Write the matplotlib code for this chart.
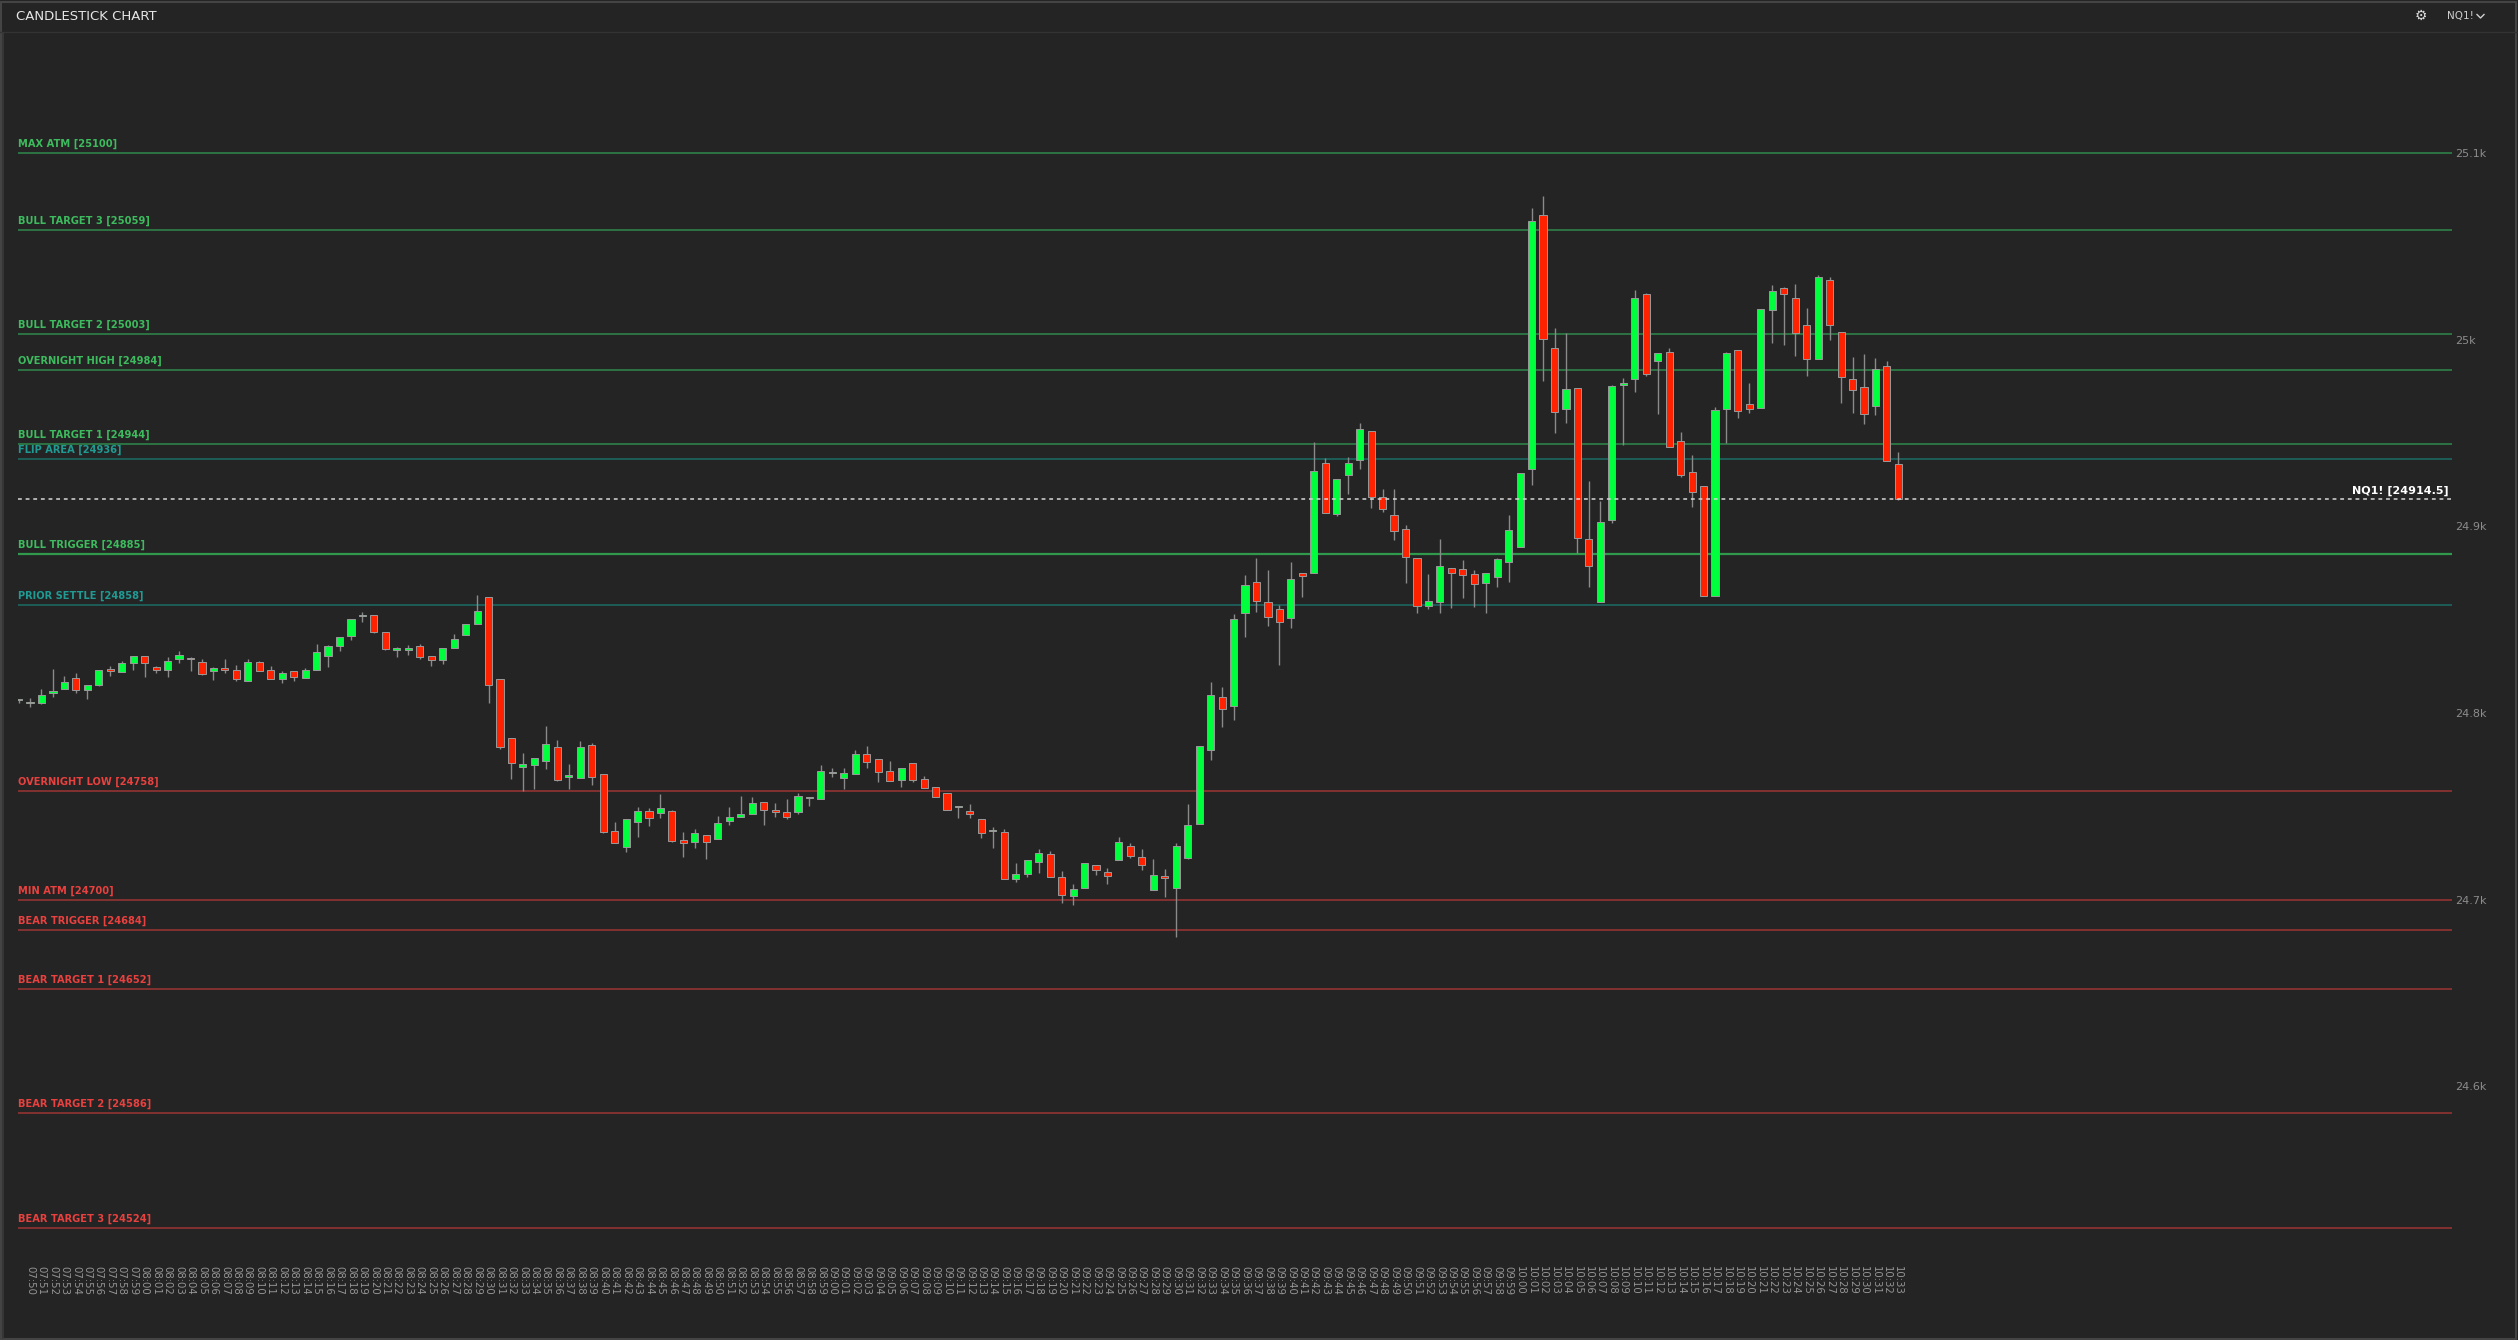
import matplotlib
matplotlib.use("Agg")
import matplotlib.pyplot as plt
from matplotlib.lines import Line2D
import numpy as np

# ---------------- data ----------------
opens = [24807.0,24805.3,24805.2,24810.6,24813.1,24818.6,24812.2,24814.9,24823.4,24822.2,
 24826.7,24830.4,24824.9,24823.1,24828.8,24829.5,24827.5,24822.4,24824.0,24823.3,
 24817.4,24827.2,24822.9,24818.1,24822.4,24819.0,24823.1,24830.8,24836.0,24841.5,
 24851.8,24852.4,24843.3,24834.0,24834.0,24836.0,24830.4,24828.6,24834.7,24841.7,
 24847.9,24862.2,24818.4,24786.5,24771.1,24772.4,24774.5,24782.0,24765.9,24765.4,
 24782.7,24767.2,24736.6,24728.2,24741.8,24747.4,24746.3,24747.5,24731.8,24730.8,
 24734.9,24732.7,24742.4,24744.1,24746.1,24752.2,24747.4,24747.2,24747.2,24754.5,
 24754.1,24767.7,24765.4,24767.5,24778.1,24775.2,24768.8,24764.3,24773.4,24764.9,
 24760.2,24757.4,24749.5,24747.7,24743.4,24736.6,24736.1,24710.9,24714.0,24720.2,
 24724.3,24712.0,24702.0,24706.1,24718.4,24715.0,24721.1,24728.6,24722.7,24705.2,
 24712.7,24706.5,24722.5,24740.7,24780.0,24808.4,24803.8,24853.6,24870.0,24859.3,
 24855.6,24850.7,24874.8,24875.2,24933.8,24906.5,24927.7,24935.6,24951.3,24915.6,
 24905.9,24898.4,24882.9,24857.5,24859.7,24877.9,24877.0,24874.5,24869.9,24873.0,
 24880.9,24888.8,24930.5,25066.8,24995.7,24962.7,24974.0,24893.0,24859.7,24903.4,
 24975.7,24979.1,25024.3,24988.8,24993.6,24945.9,24928.9,24921.8,24862.9,24962.7,
 24994.6,24965.4,24963.6,25015.7,25027.5,25022.2,25007.7,24989.5,25031.8,25003.9,
 24978.8,24974.5,24964.6,24985.7,24933.4]
closes = [24807.0,24805.6,24809.5,24811.8,24816.8,24812.4,24815.0,24822.9,24822.5,24826.7,
 24830.8,24827.0,24823.1,24827.9,24831.3,24829.0,24821.0,24824.0,24823.1,24818.1,
 24827.5,24822.7,24818.1,24821.3,24819.2,24823.1,24832.5,24836.0,24840.9,24850.4,
 24852.0,24843.3,24834.5,24834.3,24835.0,24830.2,24828.6,24834.9,24839.5,24847.9,
 24854.9,24814.9,24782.0,24773.4,24772.5,24775.7,24783.2,24764.0,24766.1,24781.6,
 24765.7,24736.1,24730.6,24743.4,24747.4,24743.6,24749.0,24731.5,24730.2,24735.9,
 24730.9,24741.3,24744.3,24745.9,24752.0,24748.1,24747.1,24744.5,24755.8,24754.7,
 24768.8,24767.9,24767.7,24777.9,24773.8,24768.6,24763.4,24770.4,24764.3,24760.0,
 24755.2,24748.1,24749.6,24746.1,24735.9,24736.7,24710.9,24713.6,24721.1,24725.2,
 24712.0,24702.5,24705.9,24719.8,24716.1,24712.5,24730.9,24723.2,24718.4,24713.1,
 24711.4,24728.8,24739.8,24782.2,24809.8,24802.3,24850.6,24868.8,24859.8,24851.3,
 24848.6,24871.6,24873.2,24929.8,24907.0,24925.4,24933.9,24952.2,24915.9,24909.5,
 24897.3,24883.4,24857.5,24859.9,24878.6,24875.2,24874.1,24869.0,24874.9,24882.4,
 24897.9,24928.8,25063.7,25000.2,24961.1,24973.4,24893.6,24879.0,24902.2,24975.2,
 24976.6,25022.2,24981.4,24992.7,24942.7,24927.5,24918.6,24862.7,24962.3,24993.0,
 24961.8,24962.7,25016.6,25025.9,25024.3,25003.8,24989.5,25033.8,25007.7,24980.2,
 24972.9,24960.0,24984.5,24934.8,24914.5]
highs = [24807.5,24808.0,24812.9,24823.6,24819.7,24821.3,24815.0,24823.0,24825.2,24827.9,
 24830.8,24830.4,24825.2,24830.0,24833.1,24829.9,24828.8,24824.5,24829.0,24825.8,
 24828.8,24827.9,24825.2,24822.4,24822.4,24824.0,24837.0,24836.3,24840.9,24850.4,
 24854.0,24852.4,24843.3,24835.6,24836.5,24837.0,24830.4,24834.9,24842.2,24847.9,
 24863.3,24862.2,24818.4,24786.5,24778.4,24775.7,24793.1,24785.4,24772.7,24785.0,
 24783.8,24767.2,24741.6,24743.4,24749.5,24749.1,24756.5,24748.0,24736.3,24737.7,
 24734.9,24744.9,24749.7,24755.4,24754.9,24752.2,24752.0,24754.0,24757.0,24754.7,
 24772.2,24770.4,24770.4,24780.2,24782.4,24775.2,24774.1,24770.4,24773.4,24766.1,
 24760.2,24757.4,24749.6,24751.3,24743.4,24739.0,24737.7,24719.5,24721.1,24727.2,
 24726.1,24715.2,24708.3,24719.8,24718.4,24716.8,24733.4,24730.2,24727.0,24721.6,
 24716.6,24730.5,24751.1,24782.2,24816.4,24813.8,24853.1,24874.0,24883.0,24876.6,
 24857.7,24880.9,24874.8,24945.2,24936.5,24925.4,24937.0,24955.4,24951.3,24920.0,
 24919.8,24900.6,24882.9,24874.5,24893.2,24877.9,24882.0,24876.6,24874.9,24883.1,
 24906.1,24928.8,25070.4,25077.0,25006.1,25003.8,24974.0,24924.3,24913.8,24975.7,
 24979.3,25026.6,25025.2,24992.7,24995.4,24950.7,24938.2,24921.8,24963.8,24993.6,
 24994.6,24976.6,25016.6,25029.3,25028.1,25029.8,25017.0,25034.5,25033.4,25003.9,
 24990.5,24992.3,24990.0,24988.8,24940.0]
lows = [24805.6,24803.0,24805.0,24808.8,24813.0,24811.0,24807.5,24814.5,24820.0,24822.0,
 24823.1,24819.5,24821.7,24819.2,24827.0,24822.7,24820.4,24817.7,24821.7,24817.4,
 24817.4,24822.7,24818.0,24816.3,24817.4,24818.6,24823.0,24824.9,24833.4,24839.2,
 24849.0,24843.0,24834.0,24830.2,24831.3,24829.2,24825.4,24826.5,24834.7,24841.7,
 24847.9,24805.6,24781.0,24764.9,24758.4,24759.1,24769.9,24763.4,24759.5,24765.4,
 24761.6,24736.0,24730.6,24725.8,24733.4,24739.7,24744.0,24731.0,24723.1,24727.9,
 24722.0,24732.7,24740.2,24744.1,24746.1,24740.0,24744.5,24743.4,24745.8,24750.2,
 24754.1,24765.9,24759.5,24767.5,24770.7,24763.2,24763.4,24760.4,24763.2,24760.0,
 24755.0,24748.0,24744.0,24744.0,24733.3,24727.5,24710.9,24709.7,24712.4,24714.1,
 24712.0,24698.1,24697.0,24706.1,24713.1,24708.3,24721.1,24722.2,24715.7,24705.2,
 24701.6,24680.2,24721.6,24740.7,24774.7,24792.3,24796.3,24840.7,24854.3,24846.8,
 24825.9,24845.6,24862.3,24874.9,24907.0,24905.7,24917.2,24930.6,24910.0,24907.9,
 24892.5,24869.5,24853.4,24855.6,24853.8,24856.5,24861.8,24857.0,24853.8,24867.7,
 24870.4,24888.8,24922.1,24978.0,24950.2,24955.6,24885.9,24867.7,24859.7,24902.0,
 24943.6,24972.2,24980.5,24960.2,24942.7,24926.3,24910.6,24862.5,24862.9,24944.5,
 24957.9,24960.5,24963.6,24998.4,24997.2,24991.3,24980.7,24989.5,25000.0,24965.9,
 24960.9,24954.6,24959.6,24934.8,24914.0]

start_minute = 7 * 60 + 49
times = ["%02d:%02d" % ((start_minute + i) // 60, (start_minute + i) % 60) for i in range(len(opens))]

level_names = ["MAX ATM", "BULL TARGET 3", "BULL TARGET 2", "OVERNIGHT HIGH", "BULL TARGET 1",
               "FLIP AREA", "BULL TRIGGER", "PRIOR SETTLE", "OVERNIGHT LOW", "MIN ATM",
               "BEAR TRIGGER", "BEAR TARGET 1", "BEAR TARGET 2", "BEAR TARGET 3"]
level_values = [25100, 25059, 25003, 24984, 24944, 24936, 24885, 24858, 24758, 24700,
                24684, 24652, 24586, 24524]
level_kinds = ["bull", "bull", "bull", "bull", "bull", "flip", "bull", "flip", "bear", "bear",
               "bear", "bear", "bear", "bear"]
last_price = 24914.5
symbol = "NQ1!"
yticks = [24600, 24700, 24800, 24900, 25000, 25100]
ytick_labels = ["24.6k", "24.7k", "24.8k", "24.9k", "25k", "25.1k"]

# ---------------- style ----------------
BG = "#242424"
label_col = {"bull": "#3dbb5e", "flip": "#1f9b94", "bear": "#e8413f"}
line_col = {"bull": "#2c7a45", "flip": "#1d615c", "bear": "#8c3232"}
UP = "#00ff3c"
DN = "#ff2200"

W, H = 2518, 1340
fig = plt.figure(figsize=(W / 100, H / 100), dpi=100, facecolor=BG)
ax = fig.add_axes([18 / W, 1 - 1255 / H, (2452 - 18) / W, (1255 - 32) / H])
ax.set_facecolor(BG)
for s in ax.spines.values():
    s.set_visible(False)

n = len(opens)
x = np.arange(n)
o = np.array(opens); c = np.array(closes); hi = np.array(highs); lo = np.array(lows)
up = c >= o
ax.vlines(x, lo, hi, color="#8a8a8a", linewidth=1.0, zorder=3)
bottom = np.minimum(o, c)
height = np.maximum(np.abs(c - o), 0.7)
ax.bar(x, height, bottom=bottom, width=0.62, color=np.where(up, UP, DN),
       edgecolor="#9a9a9a", linewidth=0.7, zorder=4)

xmin, xmax = -0.05, 212.3
ax.set_xlim(xmin, xmax)
ax.set_ylim(24509.7, 25164.8)

for name, val, kind in zip(level_names, level_values, level_kinds):
    lw = 1.6 if name == "BULL TRIGGER" else 1.3
    ax.axhline(val, color=line_col[kind] if name != "BULL TRIGGER" else "#2f9a4c",
               linewidth=lw, zorder=2)
    ax.annotate("%s [%d]" % (name, val), xy=(0, val), xycoords=("axes fraction", "data"),
                xytext=(0, 4), textcoords="offset pixels", ha="left", va="bottom",
                color=label_col[kind], fontsize=7.1, fontweight="bold")

ax.axhline(last_price, color="#d8d8d8", linewidth=1.1, linestyle=(0, (2.5, 2.5)), zorder=5)
ax.annotate("%s [%s]" % (symbol, last_price), xy=(1, last_price), xycoords=("axes fraction", "data"),
            xytext=(-3, 3), textcoords="offset pixels", ha="right", va="bottom",
            color="white", fontsize=8, fontweight="bold")

ax.set_yticks(yticks)
ax.set_yticklabels(ytick_labels)
ax.yaxis.tick_right()
ax.tick_params(axis="y", length=0, pad=2, labelsize=8, labelcolor="#8c8c8c")
ax.set_xticks(x[1:])
ax.set_xticklabels(times[1:], rotation=-90, fontsize=7.3, color="#959595")
ax.tick_params(axis="x", length=0, pad=8)

# header / frame
fig.add_artist(Line2D([0, 1], [1 - 32 / H, 1 - 32 / H], color="#333333", linewidth=1))
fig.add_artist(plt.Rectangle((1 / W, 1 / H), 1 - 3 / W, 1 - 3 / H, fill=False,
                             edgecolor="#444444", linewidth=1.5, transform=fig.transFigure))
fig.add_artist(Line2D([3 / W, 3 / W], [2 / H, 1 - 33 / H], color="#3a3a3a", linewidth=1.2))
fig.text(16 / W, 1 - 16 / H, "CANDLESTICK CHART", color="#e6e6e6", fontsize=9.5, va="center", ha="left")
fig.text(2421 / W, 1 - 16 / H, "\u2699", color="#dddddd", fontsize=10, va="center", ha="center")
fig.text(2447 / W, 1 - 16 / H, symbol, color="#cfcfcf", fontsize=7.5, va="center", ha="left")
fig.add_artist(Line2D([2477 / W, 2480.5 / W, 2484 / W], [1 - 14.5 / H, 1 - 18 / H, 1 - 14.5 / H],
                      color="#cfcfcf", linewidth=1))

fig.savefig("out.png", dpi=100, facecolor=BG)
